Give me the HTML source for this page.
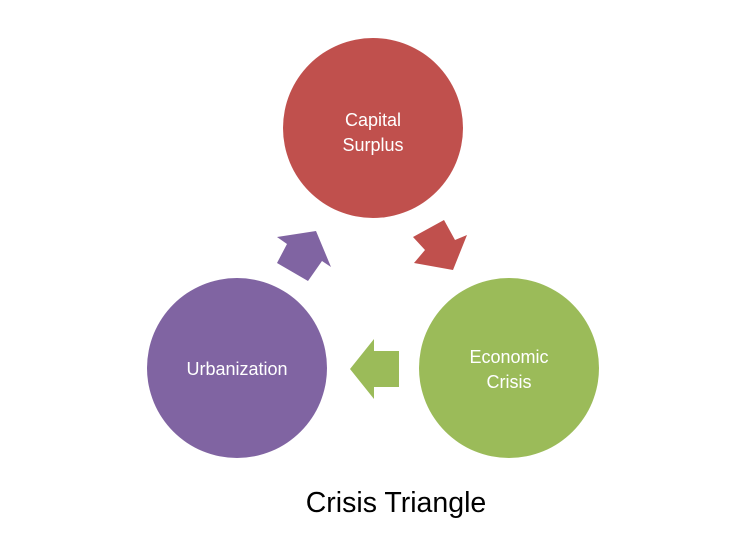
<!DOCTYPE html>
<html><head><style>
html,body{margin:0;padding:0;background:#fff;}
svg{display:block;}
</style></head><body>
<svg width="749" height="539" xmlns="http://www.w3.org/2000/svg">
<rect width="749" height="539" fill="#fff"/>
<circle cx="373" cy="128" r="90" fill="#c0504d"/>
<circle cx="509" cy="368" r="90" fill="#9bbb59"/>
<circle cx="237" cy="368" r="90" fill="#8064a2"/>
<polygon points="413,237 444,220 455,240 467,235 453,270 414,263 425,250" fill="#c0504d"/>
<polygon points="350,369 374,339 374,351 399,351 399,387 374,387 374,399" fill="#9bbb59"/>
<polygon points="316,231 331,267 322,261 308,281 277,263 287,244 277,237" fill="#8064a2"/>
<g font-family="'Liberation Sans', sans-serif" fill="#fff" font-size="18" text-anchor="middle">
<text x="373" y="126">Capital</text>
<text x="373" y="151">Surplus</text>
<text x="509" y="363">Economic</text>
<text x="509" y="388">Crisis</text>
<text x="237" y="375">Urbanization</text>
</g>
<text x="396" y="512" font-family="'Liberation Sans', sans-serif" font-size="28.5" text-anchor="middle" fill="#000">Crisis Triangle</text>
</svg>
</body></html>
